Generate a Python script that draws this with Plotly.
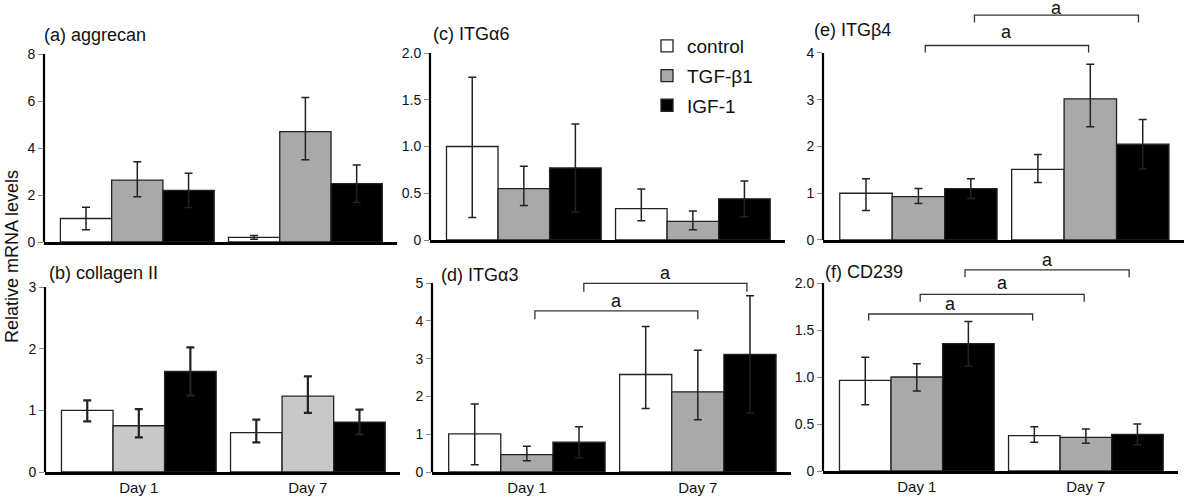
import plotly.graph_objects as go

# ---------------- data ----------------
days = [0, 1]
day_labels = ["Day 1", "Day 7"]
treatments = ["control", "TGF-β1", "IGF-1"]

# panel (a) aggrecan
a_vals = {"control": [1.0, 0.2], "TGF-β1": [2.63, 4.7], "IGF-1": [2.2, 2.48]}
a_up = {"control": [0.48, 0.08], "TGF-β1": [0.78, 1.45], "IGF-1": [0.73, 0.8]}
a_dn = {"control": [0.48, 0.08], "TGF-β1": [0.7, 1.2], "IGF-1": [0.73, 0.8]}

# panel (b) collagen II
b_vals = {"control": [1.0, 0.64], "TGF-β1": [0.75, 1.23], "IGF-1": [1.63, 0.81]}
b_up = {"control": [0.16, 0.21], "TGF-β1": [0.27, 0.32], "IGF-1": [0.39, 0.2]}
b_dn = {"control": [0.18, 0.16], "TGF-β1": [0.19, 0.27], "IGF-1": [0.39, 0.2]}

# panel (c) ITGa6
c_vals = {"control": [1.0, 0.335], "TGF-β1": [0.55, 0.2], "IGF-1": [0.77, 0.44]}
c_up = {"control": [0.74, 0.21], "TGF-β1": [0.24, 0.11], "IGF-1": [0.47, 0.19]}
c_dn = {"control": [0.76, 0.13], "TGF-β1": [0.18, 0.09], "IGF-1": [0.47, 0.19]}

# panel (d) ITGa3
d_vals = {"control": [1.01, 2.58], "TGF-β1": [0.46, 2.12], "IGF-1": [0.79, 3.11]}
d_up = {"control": [0.79, 1.27], "TGF-β1": [0.22, 1.1], "IGF-1": [0.41, 1.55]}
d_dn = {"control": [0.82, 0.9], "TGF-β1": [0.16, 0.74], "IGF-1": [0.41, 1.55]}

# panel (e) ITGb4
e_vals = {"control": [1.0, 1.51], "TGF-β1": [0.93, 3.02], "IGF-1": [1.1, 2.05]}
e_up = {"control": [0.31, 0.32], "TGF-β1": [0.17, 0.74], "IGF-1": [0.21, 0.53]}
e_dn = {"control": [0.37, 0.28], "TGF-β1": [0.15, 0.6], "IGF-1": [0.21, 0.53]}

# panel (f) CD239
f_vals = {"control": [0.965, 0.376], "TGF-β1": [1.0, 0.358], "IGF-1": [1.354, 0.39]}
f_up = {"control": [0.245, 0.094], "TGF-β1": [0.14, 0.089], "IGF-1": [0.236, 0.11]}
f_dn = {"control": [0.26, 0.071], "TGF-β1": [0.15, 0.063], "IGF-1": [0.236, 0.11]}

# significance brackets: (x_start, x_end, y_top, y_end, label_y)
d_brackets = [(0.047, 1.0, 4.26, 4.04, 4.52), (0.333, 1.287, 4.99, 4.77, 5.26)]
e_brackets = [(0.04, 0.99, 4.16, 4.01, 4.44), (0.326, 1.28, 4.81, 4.65, 4.96)]
f_brackets = [(-0.285, 0.685, 1.67, 1.60, 1.775), (0.02, 0.99, 1.88, 1.80, 1.995),
              (0.285, 1.256, 2.14, 2.06, 2.245)]

y_ticks_a = [0, 2, 4, 6, 8]
y_ticks_b = [0, 1, 2, 3]
y_ticks_c = [0, 0.5, 1.0, 1.5, 2.0]
y_ticks_d = [0, 1, 2, 3, 4, 5]
y_ticks_e = [0, 1, 2, 3, 4]
y_ticks_f = [0, 0.5, 1.0, 1.5, 2.0]
dec_labels = ["0", "0.5", "1.0", "1.5", "2.0"]

# ---------------- styles / layout ----------------
W, H = 1200, 498
FONT = "Liberation Sans, Arial, sans-serif"
fills = {"control": "#ffffff", "TGF-β1": "#a9a9a9", "IGF-1": "#000000"}
fills_b = {"control": "#ffffff", "TGF-β1": "#c8c8c8", "IGF-1": "#000000"}
XR = [-0.555, 1.545]

panels = [
    ("", "(a) aggrecan", a_vals, a_up, a_dn, y_ticks_a, None, (44, 397), 242, 8, 54, 8, [], fills, False, (42, 35)),
    ("2", "(c) ITGα6", c_vals, c_up, c_dn, y_ticks_c, dec_labels, (430, 785), 240, 2.0, 53, 2.0, [], fills, False, (431, 34)),
    ("3", "(e) ITGβ4", e_vals, e_up, e_dn, y_ticks_e, None, (823, 1184), 240, 4, 53, 5.1, e_brackets, fills, False, (812, 30)),
    ("4", "(b) collagen II", b_vals, b_up, b_dn, y_ticks_b, None, (45, 400), 472, 3, 287, 3, [], fills_b, True, (47, 273)),
    ("5", "(d) ITGα3", d_vals, d_up, d_dn, y_ticks_d, None, (432, 791), 472, 5, 283, 5.45, d_brackets, fills, True, (439, 275)),
    ("6", "(f) CD239", f_vals, f_up, f_dn, y_ticks_f, dec_labels, (823, 1178), 471, 2.0, 283, 2.32, f_brackets, fills, True, (823, 272)),
]

fig = go.Figure()
shapes = []
annotations = []
layout = {}

for idx, (aid, title, vals, up, dn, ticks, ttext, xpx, y0px, ymax, ymaxpx, rtop, brackets, fl, bottom, tpos) in enumerate(panels):
    ppu = (y0px - ymaxpx) / ymax
    top_px = max(0.0, y0px - rtop * ppu)
    xa = "x" + aid
    ya = "y" + aid
    for t in treatments:
        fig.add_trace(go.Bar(
            x=days, y=vals[t], name=t, xaxis=xa, yaxis=ya,
            offsetgroup=t, legendgroup=t, showlegend=(idx == 0),
            marker=dict(color=fl[t], line=dict(color="#222222", width=1.3)),
            error_y=dict(type="data", symmetric=False, array=up[t], arrayminus=dn[t],
                         color="#222222", thickness=2.2 if aid == "4" else 1.5,
                         width=4),
        ))
    layout["xaxis" + aid] = dict(
        domain=[xpx[0] / W, xpx[1] / W], anchor=ya, range=XR, type="linear",
        automargin=False,
        showline=True, linecolor="#000000", linewidth=2.5, showgrid=False,
        zeroline=False, ticks="", tickvals=days if bottom else [],
        ticktext=day_labels if bottom else [], showticklabels=bottom,
        tickfont=dict(family=FONT, size=15, color="#111111"),
    )
    layout["yaxis" + aid] = dict(
        domain=[1 - y0px / H, min(1.0, 1 - top_px / H)], anchor=xa, range=[0, rtop],
        automargin=False,
        showline=False, showgrid=False, zeroline=False,
        ticks="outside", ticklen=5, tickwidth=1, tickcolor="#888888",
        tickvals=ticks, ticktext=ttext if ttext else [str(v) for v in ticks],
        tickfont=dict(family=FONT, size=14, color="#111111"),
    )
    shapes.append(dict(type="line", xref=xa + " domain", yref=ya, x0=0, x1=0,
                       y0=0, y1=ymax, line=dict(color="#000000", width=2.2)))
    annotations.append(dict(text=title, xref="paper", yref="paper",
                             x=tpos[0] / W, y=1 - tpos[1] / H, xanchor="left", yanchor="middle",
                             showarrow=False, font=dict(family=FONT, size=18, color="#111111")))
    for (bx0, bx1, byt, bye, ly) in brackets:
        shapes.append(dict(type="path", xref=xa, yref=ya,
                           path=f"M {bx0},{bye} L {bx0},{byt} L {bx1},{byt} L {bx1},{bye}",
                           line=dict(color="#333333", width=1.3)))
        annotations.append(dict(text="a", xref=xa, yref=ya, x=(bx0 + bx1) / 2, y=ly,
                                xanchor="center", yanchor="middle", showarrow=False,
                                font=dict(family=FONT, size=18, color="#111111")))

annotations.append(dict(text="Relative mRNA levels", xref="paper", yref="paper",
                        x=12 / W, y=1 - 257 / H, textangle=-90, showarrow=False,
                        xanchor="center", yanchor="middle",
                        font=dict(family=FONT, size=18, color="#111111")))

fig.update_layout(
    width=W, height=H, margin=dict(l=0, r=0, t=0, b=0, autoexpand=False),
    paper_bgcolor="white", plot_bgcolor="white",
    barmode="group", bargap=0.085, bargroupgap=0,
    shapes=shapes, annotations=annotations,
    legend=dict(x=647 / W, y=1 - 27 / H, xanchor="left", yanchor="top",
                font=dict(family=FONT, size=19, color="#111111"),
                bgcolor="rgba(0,0,0,0)", tracegroupgap=2, itemwidth=30),
    **layout,
)

fig.write_html("out.html", config={"displayModeBar": False},
               post_script="document.body.style.margin='0px';document.body.style.overflow='hidden';")
